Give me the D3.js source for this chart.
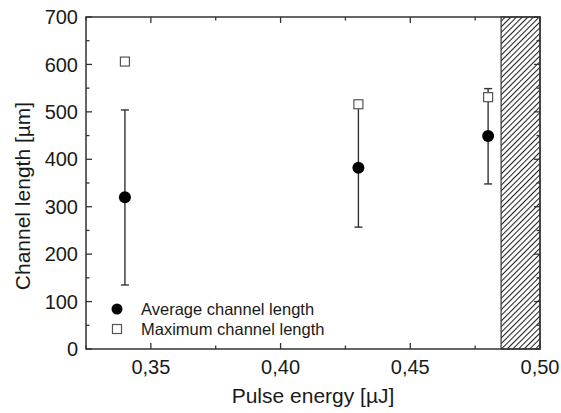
<!DOCTYPE html>
<html>
<head>
<meta charset="utf-8">
<script src="https://cdn.jsdelivr.net/npm/d3@7"></script>
<style>
  body { margin: 0; background: #fff; }
  text { font-family: "Liberation Sans", Arial, sans-serif; fill: #1a1a1a; }
</style>
</head>
<body>
<div id="chart"></div>
<script>
// data
const energy = [0.34, 0.43, 0.48];
const avgLength = [320, 382, 449];
const errLow = [135, 257, 348];
const errHigh = [504, 510, 549];
const maxLength = [606, 516, 531];
const hatchFrom = 0.485;
const xTicks = [0.35, 0.40, 0.45, 0.50];
const yTicks = [0, 100, 200, 300, 400, 500, 600, 700];

const width = 561, height = 413;
const margin = { top: 17, right: 21, bottom: 64, left: 86 };
const iw = width - margin.left - margin.right;
const ih = height - margin.top - margin.bottom;

const svg = d3.select("#chart").append("svg")
  .attr("width", width).attr("height", height);

const x = d3.scaleLinear().domain([0.325, 0.5]).range([0, iw]);
const y = d3.scaleLinear().domain([0, 700]).range([ih, 0]);

const g = svg.append("g").attr("transform", `translate(${margin.left},${margin.top})`);

// hatch pattern
const defs = svg.append("defs");
const pat = defs.append("pattern")
  .attr("id", "hatch").attr("patternUnits", "userSpaceOnUse")
  .attr("width", 4).attr("height", 4)
  .attr("patternTransform", "rotate(45)");
pat.append("line").attr("x1", 0.5).attr("y1", 0).attr("x2", 0.5).attr("y2", 4)
  .attr("stroke", "#222").attr("stroke-width", 1.1);

g.append("rect")
  .attr("x", x(hatchFrom)).attr("y", 0)
  .attr("width", x(0.5) - x(hatchFrom)).attr("height", ih)
  .attr("fill", "url(#hatch)").attr("stroke", "#333").attr("stroke-width", 1.2);

// ticks (inward) on all sides
const axisColor = "#333";
const xMinor = d3.range(0.325, 0.5001, 0.025);
const yMinor = d3.range(0, 701, 50);
function isMajorX(v) { return xTicks.some(t => Math.abs(t - v) < 1e-6); }
function isMajorY(v) { return v % 100 === 0; }

const tickG = g.append("g").attr("stroke", axisColor).attr("stroke-width", 1.3);
xMinor.forEach(v => {
  const L = isMajorX(v) ? 6 : 3.5;
  tickG.append("line").attr("x1", x(v)).attr("x2", x(v)).attr("y1", ih).attr("y2", ih - L);
  tickG.append("line").attr("x1", x(v)).attr("x2", x(v)).attr("y1", 0).attr("y2", L);
});
yMinor.forEach(v => {
  const L = isMajorY(v) ? 6 : 3.5;
  tickG.append("line").attr("y1", y(v)).attr("y2", y(v)).attr("x1", 0).attr("x2", L);
  tickG.append("line").attr("y1", y(v)).attr("y2", y(v)).attr("x1", iw).attr("x2", iw - L);
});

// frame
g.append("rect").attr("width", iw).attr("height", ih)
  .attr("fill", "none").attr("stroke", axisColor).attr("stroke-width", 1.5);

// tick labels
const fmt = d3.format(".2f");
g.selectAll(".xl").data(xTicks).join("text")
  .attr("x", d => x(d)).attr("y", ih + 25)
  .attr("text-anchor", "middle").attr("font-size", 20)
  .text(d => fmt(d).replace(".", ","));
g.selectAll(".yl").data(yTicks).join("text")
  .attr("x", -8).attr("y", d => y(d)).attr("dy", "0.36em")
  .attr("text-anchor", "end").attr("font-size", 20)
  .text(d => d);

// axis titles
svg.append("text").attr("x", margin.left + iw / 2).attr("y", 403)
  .attr("text-anchor", "middle").attr("font-size", 21)
  .text("Pulse energy [µJ]");
svg.append("text").attr("transform", "translate(30,196) rotate(-90)")
  .attr("text-anchor", "middle").attr("font-size", 21)
  .text("Channel length [µm]");

// error bars
const eb = g.append("g").attr("stroke", "#333").attr("stroke-width", 1.4);
energy.forEach((e, i) => {
  const cx = x(e);
  eb.append("line").attr("x1", cx).attr("x2", cx).attr("y1", y(errLow[i])).attr("y2", y(errHigh[i]));
  [errLow[i], errHigh[i]].forEach(v => {
    eb.append("line").attr("x1", cx - 4).attr("x2", cx + 4).attr("y1", y(v)).attr("y2", y(v));
  });
});

// max squares
g.selectAll(".sq").data(energy).join("rect")
  .attr("x", d => x(d) - 4.5).attr("y", (d, i) => y(maxLength[i]) - 4.5)
  .attr("width", 9).attr("height", 9)
  .attr("fill", "#fff").attr("stroke", "#555").attr("stroke-width", 1.2);

// average dots
g.selectAll(".dot").data(energy).join("circle")
  .attr("cx", d => x(d)).attr("cy", (d, i) => y(avgLength[i]))
  .attr("r", 6).attr("fill", "#000");

// legend
const lg = g.append("g");
lg.append("circle").attr("cx", 117 - margin.left).attr("cy", 309 - margin.top).attr("r", 5.5).attr("fill", "#000");
lg.append("rect").attr("x", 117 - margin.left - 4.5).attr("y", 329 - margin.top - 4.5)
  .attr("width", 9).attr("height", 9).attr("fill", "#fff").attr("stroke", "#555").attr("stroke-width", 1.2);
lg.append("text").attr("x", 141 - margin.left).attr("y", 309 - margin.top).attr("dy", "0.36em")
  .attr("font-size", 16.5).text("Average channel length");
lg.append("text").attr("x", 141 - margin.left).attr("y", 329 - margin.top).attr("dy", "0.36em")
  .attr("font-size", 16.5).text("Maximum channel length");
</script>
</body>
</html>
